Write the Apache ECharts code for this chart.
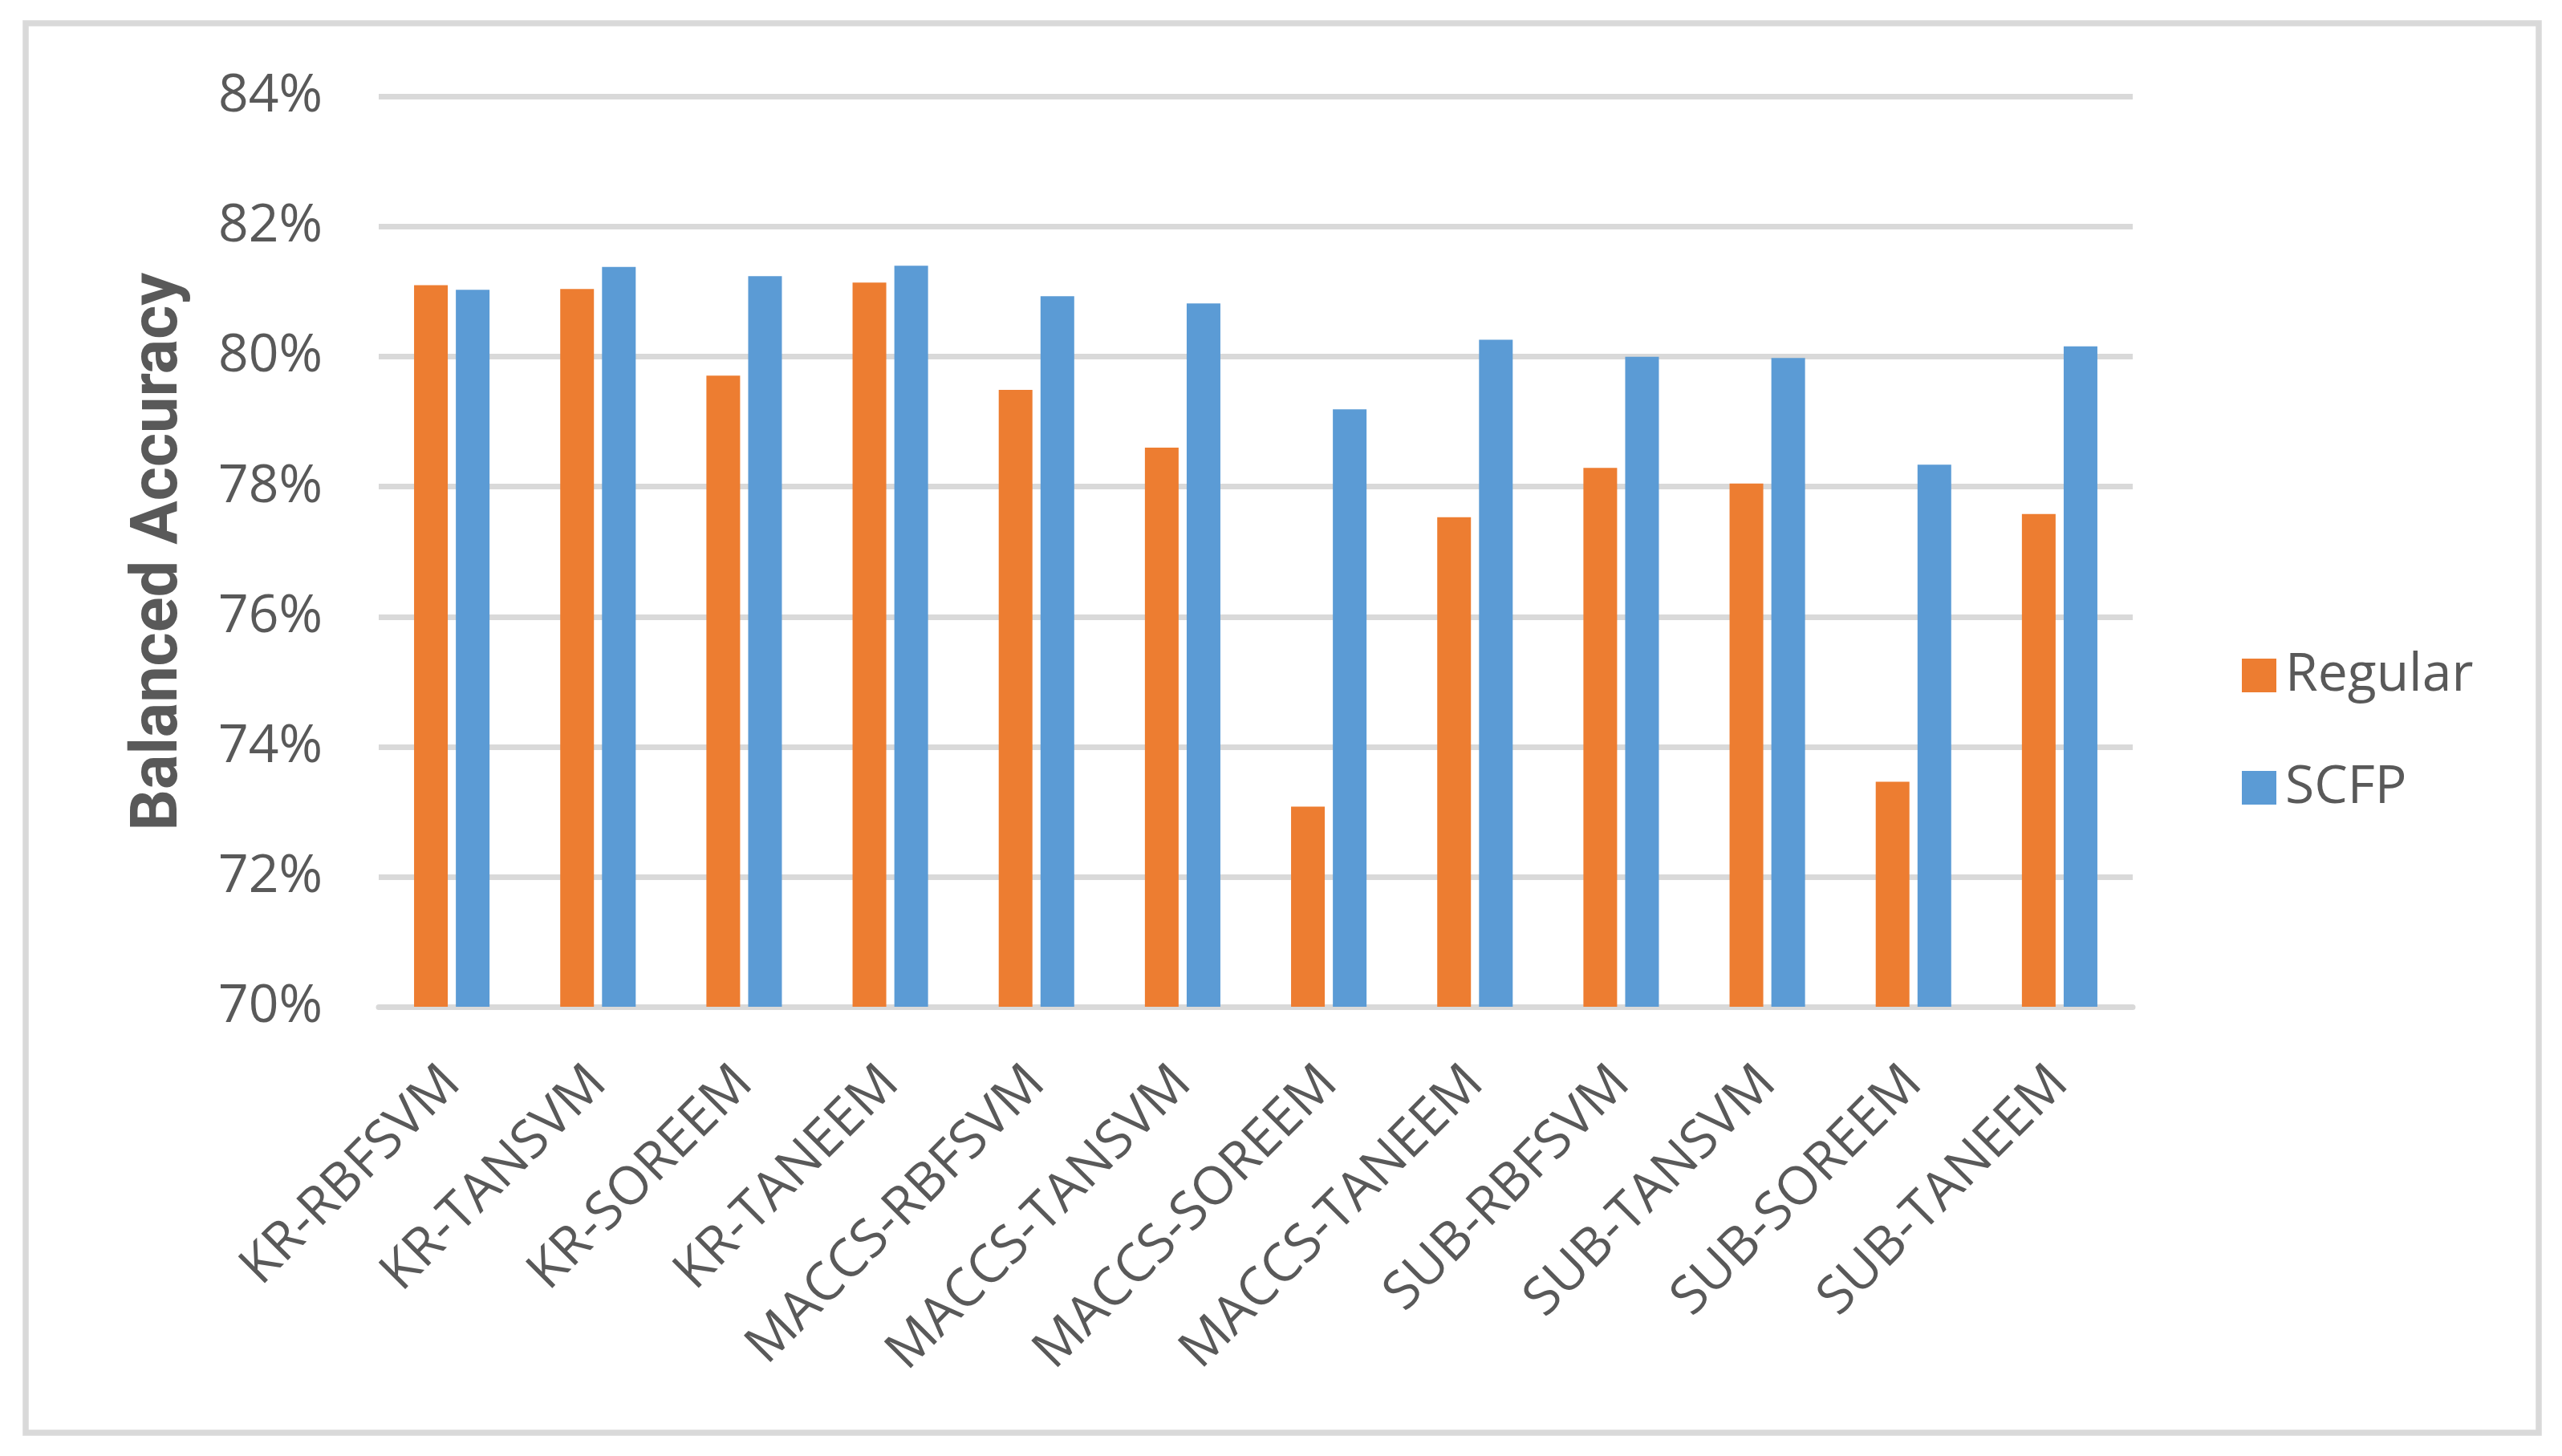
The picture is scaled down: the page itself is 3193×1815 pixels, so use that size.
<!DOCTYPE html>
<html>
<head>
<meta charset="utf-8">
<script src="https://cdn.jsdelivr.net/npm/echarts@6/dist/echarts.min.js"></script>
<style>
html,body{margin:0;padding:0;background:#fff;}
#chart{width:3193px;height:1815px;}
</style>
</head>
<body>
<div id="chart"></div>
<script>
const categories = ['KR-RBFSVM','KR-TANSVM','KR-SOREEM','KR-TANEEM','MACCS-RBFSVM','MACCS-TANSVM','MACCS-SOREEM','MACCS-TANEEM','SUB-RBFSVM','SUB-TANSVM','SUB-SOREEM','SUB-TANEEM'];
const regular = [81.10, 81.04, 79.71, 81.14, 79.49, 78.60, 73.08, 77.53, 78.29, 78.05, 73.46, 77.58];
const scfp = [81.03, 81.38, 81.24, 81.40, 80.93, 80.82, 79.19, 80.26, 80.00, 79.98, 78.34, 80.16];
const seriesNames = ['Regular', 'SCFP'];
const yMin = 70, yMax = 84, yStep = 2;

const textColor = '#595959';
const gridColor = '#d9d9d9';
const chart = echarts.init(document.getElementById('chart'), null, {renderer: 'canvas'});
chart.setOption({
  animation: false,
  backgroundColor: '#ffffff',
  graphic: [{
    type: 'rect',
    shape: {x: 32, y: 29, width: 3132, height: 1757},
    style: {fill: 'none', stroke: gridColor, lineWidth: 7.5},
    z: 0
  }],
  grid: {left: 472, right: 535, top: 120.5, bottom: 560, containLabel: false},
  legend: {
    orient: 'vertical',
    left: 2789,
    top: 804,
    itemWidth: 43,
    itemHeight: 42,
    itemGap: 74,
    icon: 'rect',
    textStyle: {fontFamily: 'Open Sans', fontSize: 66, lineHeight: 66, color: textColor, padding: [0, 0, 0, 6]},
    data: seriesNames
  },
  xAxis: {
    type: 'category',
    data: categories,
    axisLine: {show: true, lineStyle: {color: gridColor, width: 7}},
    axisTick: {show: false},
    axisLabel: {rotate: 45, margin: 85, fontFamily: 'Open Sans', fontSize: 66, color: textColor, interval: 0}
  },
  yAxis: {
    type: 'value',
    min: yMin, max: yMax, interval: yStep,
    name: 'Balanced Accuracy',
    nameLocation: 'middle',
    nameRotate: 90,
    nameGap: 232,
    nameTextStyle: {fontFamily: 'Roboto', fontWeight: 'bold', fontSize: 81, color: textColor},
    axisLine: {show: false},
    axisTick: {show: false},
    splitLine: {show: true, lineStyle: {color: gridColor, width: 7}},
    axisLabel: {formatter: '{value}%', margin: 70, fontFamily: 'Open Sans', fontSize: 66, color: textColor}
  },
  series: [
    {name: seriesNames[0], type: 'bar', data: regular, barWidth: 42, barGap: '24%', itemStyle: {color: '#ED7D31'}},
    {name: seriesNames[1], type: 'bar', data: scfp, barWidth: 42, barGap: '24%', itemStyle: {color: '#5B9BD5'}}
  ]
});
</script>
</body>
</html>
